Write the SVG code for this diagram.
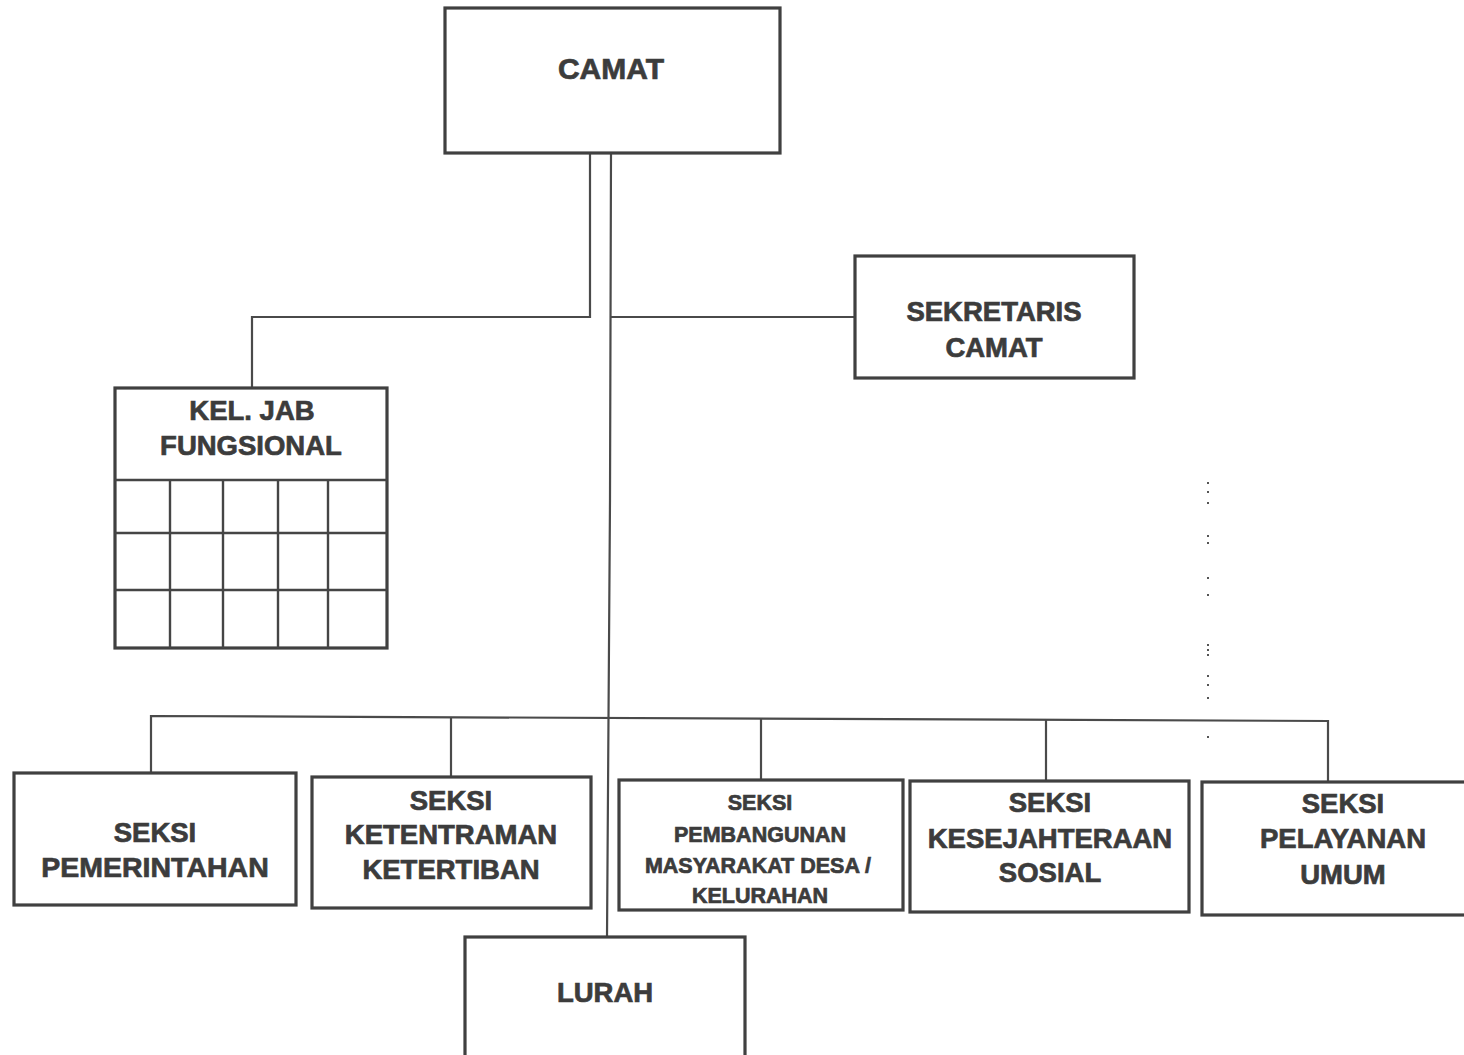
<svg xmlns="http://www.w3.org/2000/svg" width="1464" height="1055" viewBox="0 0 1464 1055">
<style>
.box{fill:none;stroke:#404040;stroke-width:3.2}
.grid{fill:none;stroke:#454545;stroke-width:2.4}
.con{fill:none;stroke:#4a4a4a;stroke-width:2.2}
.t{font-family:"Liberation Sans",Arial,sans-serif;font-weight:bold;font-size:27.5px;fill:#3c3c3c;stroke:#3c3c3c;stroke-width:0.7;text-anchor:middle}
.s{font-size:21.5px}
.dot{fill:#555}
</style>
<rect width="1464" height="1055" fill="#ffffff"/>
<g id="connectors">
<polyline class="con" points="590,153 590,317 252,317 252,388"/>
<polyline class="con" points="611,153 610,500 607,937"/>
<line class="con" x1="611" y1="317" x2="855" y2="317"/>
<polyline class="con" points="151,773 151,716 1328,721 1328,782"/>
<line class="con" x1="451" y1="717" x2="451" y2="777"/>
<line class="con" x1="761" y1="718" x2="761" y2="780"/>
<line class="con" x1="1046" y1="719" x2="1046" y2="781"/>
</g>
<g id="dots">
<rect class="dot" x="1207" y="482" width="2" height="2"/>
<rect class="dot" x="1207" y="491" width="2" height="2"/>
<rect class="dot" x="1207" y="502" width="2" height="2"/>
<rect class="dot" x="1207" y="535" width="2" height="2"/>
<rect class="dot" x="1207" y="542" width="2" height="2"/>
<rect class="dot" x="1207" y="577" width="2" height="2"/>
<rect class="dot" x="1207" y="594" width="2" height="2"/>
<rect class="dot" x="1207" y="644" width="2" height="2"/>
<rect class="dot" x="1207" y="649" width="2" height="2"/>
<rect class="dot" x="1207" y="654" width="2" height="2"/>
<rect class="dot" x="1207" y="675" width="2" height="2"/>
<rect class="dot" x="1207" y="684" width="2" height="2"/>
<rect class="dot" x="1207" y="697" width="2" height="2"/>
<rect class="dot" x="1207" y="736" width="2" height="2"/>
</g>
<g id="camat">
<rect class="box" x="445" y="8" width="335" height="145"/>
<text class="t" x="611" y="79" style="font-size:30px">CAMAT</text>
</g>
<g id="sekretaris">
<rect class="box" x="855" y="256" width="279" height="122"/>
<text class="t" x="994" y="321">SEKRETARIS</text>
<text class="t" x="994" y="357">CAMAT</text>
</g>
<g id="kel-jab">
<rect class="box" x="115" y="388" width="272" height="260"/>
<line class="grid" x1="115" y1="480" x2="387" y2="480"/>
<line class="grid" x1="115" y1="533" x2="387" y2="533"/>
<line class="grid" x1="115" y1="590" x2="387" y2="590"/>
<line class="grid" x1="170" y1="480" x2="170" y2="648"/>
<line class="grid" x1="223" y1="480" x2="223" y2="648"/>
<line class="grid" x1="278" y1="480" x2="278" y2="648"/>
<line class="grid" x1="328" y1="480" x2="328" y2="648"/>
<text class="t" x="252" y="420">KEL. JAB</text>
<text class="t" x="251" y="455">FUNGSIONAL</text>
</g>
<g id="pemerintahan">
<rect class="box" x="14" y="773" width="282" height="132"/>
<text class="t" x="155" y="842">SEKSI</text>
<text class="t" x="155" y="877" style="font-size:28.5px">PEMERINTAHAN</text>
</g>
<g id="ketentraman">
<rect class="box" x="312" y="777" width="279" height="131"/>
<text class="t" x="451" y="810">SEKSI</text>
<text class="t" x="451" y="844">KETENTRAMAN</text>
<text class="t" x="451" y="879">KETERTIBAN</text>
</g>
<g id="pembangunan">
<rect class="box" x="619" y="780" width="284" height="130"/>
<text class="t s" x="760" y="810">SEKSI</text>
<text class="t s" x="760" y="842">PEMBANGUNAN</text>
<text class="t s" x="758" y="873">MASYARAKAT DESA /</text>
<text class="t s" x="760" y="903">KELURAHAN</text>
</g>
<g id="kesejahteraan">
<rect class="box" x="910" y="781" width="279" height="131"/>
<text class="t" x="1050" y="812">SEKSI</text>
<text class="t" x="1050" y="848">KESEJAHTERAAN</text>
<text class="t" x="1050" y="882">SOSIAL</text>
</g>
<g id="pelayanan">
<rect class="box" x="1202" y="782" width="280" height="133"/>
<text class="t" x="1343" y="813">SEKSI</text>
<text class="t" x="1343" y="848">PELAYANAN</text>
<text class="t" x="1343" y="884">UMUM</text>
</g>
<g id="lurah">
<rect class="box" x="465" y="937" width="280" height="125"/>
<text class="t" x="605" y="1002">LURAH</text>
</g>
</svg>
